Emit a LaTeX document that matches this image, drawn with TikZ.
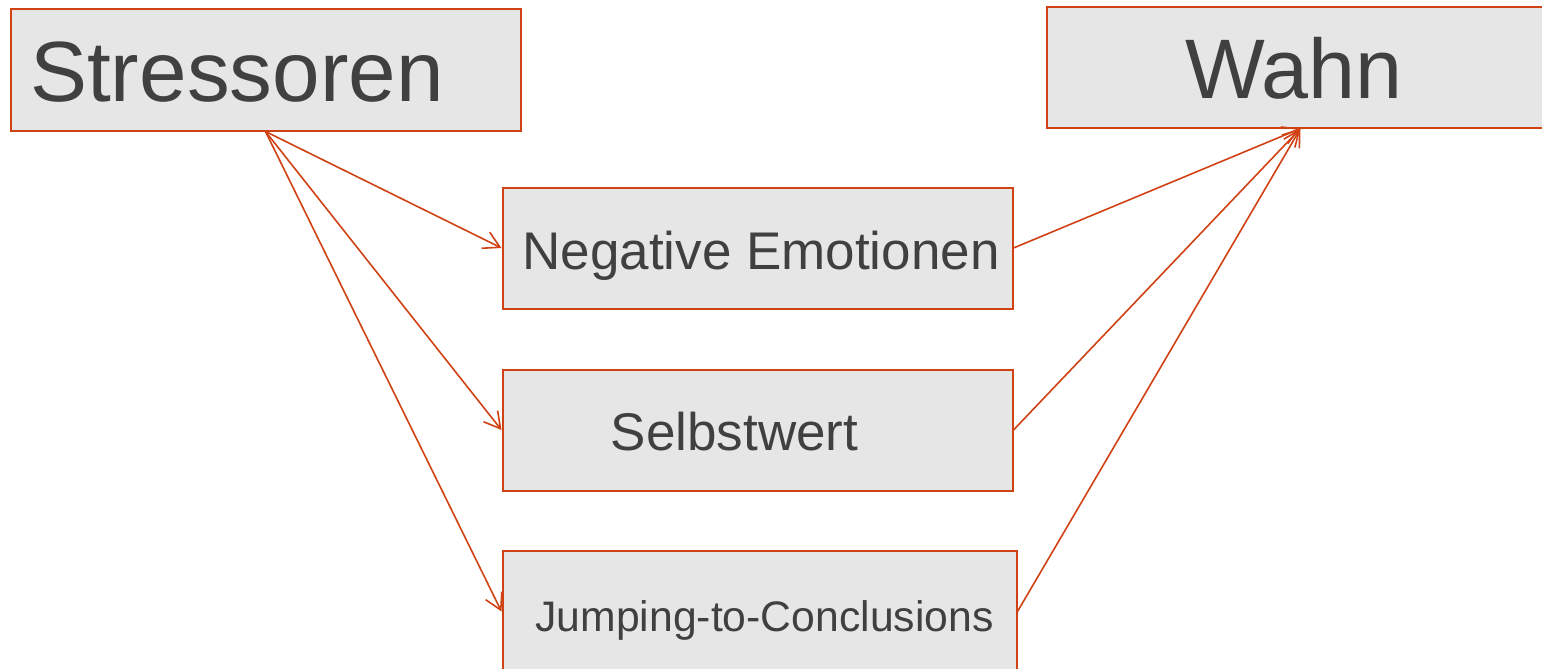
\documentclass[tikz,border=0pt]{standalone}
\usepackage{fontspec}
\setmainfont{Liberation Sans}
\usetikzlibrary{arrows.meta}
\definecolor{edgec}{RGB}{208,66,20}
\definecolor{boxfill}{RGB}{230,230,230}
\definecolor{txt}{RGB}{64,64,64}
\begin{document}
\begin{tikzpicture}[x=1pt,y=-1pt,
  box/.style={draw=edgec,fill=boxfill,line width=2pt,inner sep=0pt,anchor=north west},
  lbl/.style={text=txt,inner sep=0pt},
  conn/.style={draw=edgec,line width=1.6pt,-{Straight Barb[length=16pt,width=18pt,line width=1.6pt]}}]
\useasboundingbox (0,0) rectangle (1542,669);
\clip (0,0) rectangle (1542,669);
\node[box,minimum width=510pt,minimum height=121pt] (str) at (9.5,8.5) {};
\node[box,minimum width=508pt,minimum height=120pt] (wahn) at (1045.5,6.5) {};
\node[box,minimum width=510pt,minimum height=121pt] (neg) at (501.5,186.5) {};
\node[box,minimum width=510pt,minimum height=121pt] (selb) at (501.5,368.5) {};
\node[box,minimum width=514pt,minimum height=122pt] (jump) at (501.5,549.5) {};
\node[lbl,anchor=base west,font=\fontsize{85.5}{85.5}\selectfont] (tstr) at (30,101) {Stressoren};
\node[lbl,anchor=base,font=\fontsize{84.5}{84.5}\selectfont] (twahn) at (1294,99) {Wahn};
\node[lbl,anchor=base,font=\fontsize{53}{53}\selectfont] (tneg) at (761,269) {Negative Emotionen};
\node[lbl,anchor=base,font=\fontsize{53}{53}\selectfont] (tselb) at (734.5,450) {Selbstwert};
\node[lbl,anchor=base,font=\fontsize{42.7}{42.7}\selectfont] (tjump) at (764.5,631) {Jumping-to-Conclusions};
\draw[conn] (str.south) -- (neg.west);
\draw[conn] (str.south) -- (selb.west);
\draw[conn] (str.south) -- (jump.west);
\draw[conn] (neg.east) -- (wahn.south);
\draw[conn] (selb.east) -- (wahn.south);
\draw[conn] (jump.east) -- (wahn.south);
\end{tikzpicture}
\end{document}
